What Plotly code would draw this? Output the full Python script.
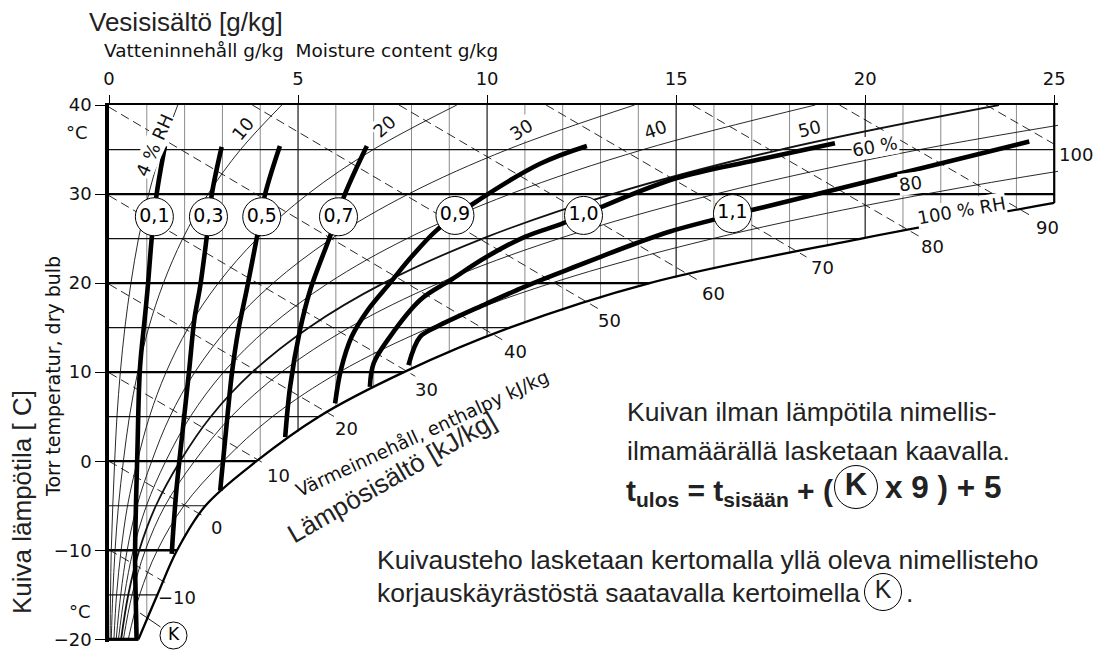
import numpy as np
import plotly.graph_objects as go

# ---------------- data ----------------
X_TICKS = [0, 5, 10, 15, 20, 25]            # moisture content g/kg
T_TICKS = [-20, -10, 0, 10, 20, 30, 40]     # dry bulb temperature C
X_RANGE = [0, 25.1]
T_RANGE = [-20.3, 40]
X_EDGE = 25
T_TOP = 40
T_BOTTOM = -20

# saturation curve (100 % RH)
SAT_T = [-20, -15, -10, -5, 0, 5, 10, 15, 20, 25, 29]
SAT_X = [0.78, 1.28, 1.80, 2.55, 3.90, 5.55, 7.80, 10.6, 14.3, 19.9, 25.0]

# relative humidity curves: moisture content at the temperatures RH_T
RH_T = [-20, -15, -10, -5, 0, 5, 10, 15, 20, 25, 30, 35, 40]
RH_4 = [0.03, 0.04, 0.06, 0.10, 0.15, 0.21, 0.30, 0.42, 0.58, 0.78, 1.05, 1.39, 1.82]
RH_10 = [0.06, 0.10, 0.16, 0.25, 0.38, 0.54, 0.76, 1.05, 1.44, 1.95, 2.62, 3.48, 4.57]
RH_20 = [0.13, 0.20, 0.32, 0.49, 0.75, 1.07, 1.51, 2.10, 2.89, 3.92, 5.26, 6.99, 9.20]
RH_30 = [0.19, 0.31, 0.48, 0.74, 1.13, 1.61, 2.27, 3.16, 4.34, 5.89, 7.92, 10.54, 13.90]
RH_40 = [0.25, 0.41, 0.64, 0.99, 1.50, 2.15, 3.03, 4.22, 5.80, 7.88, 10.61, 14.13, 18.68]
RH_50 = [0.32, 0.51, 0.80, 1.24, 1.88, 2.69, 3.79, 5.28, 7.26, 9.88, 13.31, 17.77, 23.54]
RH_60 = [0.38, 0.61, 0.96, 1.48, 2.26, 3.23, 4.56, 6.35, 8.73, 11.90, 16.04, 21.45, 28.44]
RH_80 = [0.51, 0.81, 1.28, 1.98, 3.02, 4.32, 6.09, 8.49, 11.70, 15.97, 21.60, 28.93, 38.50]
RH_LABELS = ["4 % RH", "10", "20", "30", "40", "50", "60 %", "80", "100 % RH"]
RH_LABEL_X = [1.19, 3.54, 7.28, 10.91, 14.45, 18.54, 20.25, 21.2, 22.54]
RH_LABEL_T = [35.5, 37.4, 37.6, 37.2, 37.2, 37.4, 35.3, 31.2, 28.2]

# enthalpy lines kJ/kg (start and end points)
ENTH_H = [-10, 0, 10, 20, 30, 40, 50, 60, 70, 80, 90, 100]
ENTH_X0 = [0, 0, 0, 0, 0, 0, 3.79, 7.67, 11.56, 15.44, 19.32, 23.2]
ENTH_T0 = [-9.94, 0, 9.94, 19.88, 29.82, 39.76, 40, 40, 40, 40, 40, 40]
ENTH_X1 = [1.60, 2.55, 4.15, 6.00, 8.10, 10.40, 12.95, 15.65, 18.45, 21.45, 24.45, 25.0]
ENTH_T1 = [-13.9, -6.3, -0.37, 4.9, 9.54, 13.64, 17.1, 20.15, 22.93, 25.2, 27.4, 35.6]
ENTH_LABEL_X = [1.80, 2.85, 4.48, 6.29, 8.40, 10.74, 13.25, 15.98, 18.87, 21.79, 24.82, 25.58]
ENTH_LABEL_T = [-15.3, -7.4, -1.6, 3.7, 8.0, 12.3, 15.8, 18.8, 21.7, 24.1, 26.3, 34.4]

# correction factor curves K
K01_T = [-20, -16, -10.4, 0.9, 10.5, 15.8, 19.3, 25, 30, 35.4]
K01_X = [0.73, 0.71, 0.69, 0.75, 0.82, 0.94, 1.02, 1.13, 1.26, 1.48]
K03_T = [-10.4, -7.75, -2.9, 3.9, 10.2, 16, 19.6, 25, 30, 35.3]
K03_X = [1.66, 1.70, 1.79, 1.96, 2.12, 2.26, 2.41, 2.58, 2.72, 2.98]
K05_T = [-3.3, 5.4, 10.2, 14.7, 19.2, 25.1, 30, 35.4]
K05_X = [2.94, 3.14, 3.26, 3.42, 3.64, 3.91, 4.13, 4.52]
K07_T = [2.7, 8.35, 14.7, 19.2, 25.3, 30, 35.4]
K07_X = [4.66, 4.79, 5.05, 5.32, 5.85, 6.24, 6.82]
K09_T = [6.5, 10.2, 14.0, 17.0, 20.0, 22.95, 25.95, 28.8, 33.4, 35.4]
K09_X = [5.98, 6.13, 6.42, 6.85, 7.43, 8.00, 8.67, 9.59, 11.4, 12.64]
K10_T = [8.35, 11.0, 13.97, 18.1, 20.3, 22.95, 25.2, 26.7, 28.4, 31.8, 33.8, 35.7]
K10_X = [6.90, 7.00, 7.43, 8.23, 9.02, 9.99, 11.0, 12.0, 12.93, 15.02, 17.1, 19.2]
K11_T = [10.8, 13.97, 15.1, 17.7, 19.6, 21.3, 22.95, 24.5, 25.8, 27.1, 28.2, 32.3, 35.9]
K11_X = [7.92, 8.23, 8.67, 9.99, 11.0, 12.0, 13.0, 13.96, 14.84, 15.97, 17.0, 20.92, 24.34]
K_LABELS = ["0,1", "0,3", "0,5", "0,7", "0,9", "1,0", "1,1"]
K_LABEL_X = [1.20, 2.63, 4.04, 6.07, 9.15, 12.55, 16.49]
K_LABEL_T = [27.45, 27.45, 27.45, 27.45, 27.6, 27.6, 27.8]

GRID_T_MAJOR = [-10, 0, 10, 20, 30]
GRID_T_MINOR = [-15, -5, 5, 15, 25, 35]
GRID_X_MAJOR = [5, 10, 15, 20]
GRID_X_MINOR = [v for v in range(1, 25) if v % 5 != 0]

# ---------------- layout geometry ----------------
OFF = 8                       # page body margin of the browser
W, H = 1104 - OFF, 650 - OFF
ML, MR, MT, MB = 109 - OFF, 46, 105 - OFF, 8
PW, PH = W - ML - MR, H - MT - MB


def px2x(px):
    return X_RANGE[0] + (px - OFF - ML) / PW * (X_RANGE[1] - X_RANGE[0])


def py2t(py):
    return T_RANGE[1] - (py - OFF - MT) / PH * (T_RANGE[1] - T_RANGE[0])


def px2paper(px):
    return (px - OFF - ML) / PW


def py2paper(py):
    return 1 - (py - OFF - MT) / PH


def x2paper(x):
    return (x - X_RANGE[0]) / (X_RANGE[1] - X_RANGE[0])


def t2paper(t):
    return (t - T_RANGE[0]) / (T_RANGE[1] - T_RANGE[0])


fig = go.Figure()


def add_segments(segs, width, color, dash="solid"):
    xs, ys = [], []
    for x0, t0, x1, t1 in segs:
        xs += [x0, x1, None]
        ys += [t0, t1, None]
    fig.add_trace(go.Scatter(x=xs, y=ys, mode="lines",
                             line=dict(color=color, width=width, dash=dash),
                             hoverinfo="skip", showlegend=False))


def sat_x_at(t):
    return min(float(np.interp(t, SAT_T, SAT_X)), X_EDGE)


def sat_t_at(x):
    return float(np.interp(x, SAT_X, SAT_T))


# grid
add_segments([(x, sat_t_at(x), x, T_TOP) for x in GRID_X_MINOR], 1.0, "#8c8c8c")
add_segments([(x, sat_t_at(x), x, T_TOP) for x in GRID_X_MAJOR], 1.2, "#1a1a1a")
add_segments([(0, t, sat_x_at(t), t) for t in GRID_T_MINOR], 1.2, "#111111")
add_segments([(0, t, sat_x_at(t), t) for t in GRID_T_MAJOR], 2.3, "#000000")

# RH curves
for xs, w in [(RH_4, 0.9), (RH_10, 0.9), (RH_20, 0.9), (RH_30, 0.9), (RH_40, 0.9),
              (RH_50, 1.8), (RH_60, 0.9), (RH_80, 0.9)]:
    fig.add_trace(go.Scatter(x=xs, y=RH_T, mode="lines",
                             line=dict(color="#111111", width=w, shape="spline"),
                             hoverinfo="skip", showlegend=False))

# enthalpy lines
add_segments(list(zip(ENTH_X0, ENTH_T0, ENTH_X1, ENTH_T1)), 0.9, "#111111", "9px,5px")

# frame pieces: bottom line and right edge
add_segments([(0, T_BOTTOM, SAT_X[0], T_BOTTOM)], 3.2, "#000000")
add_segments([(X_EDGE, SAT_T[-1], X_EDGE, T_TOP)], 2.2, "#000000")

# saturation curve
fig.add_trace(go.Scatter(x=SAT_X, y=SAT_T, mode="lines",
                         line=dict(color="#000000", width=2.3, shape="spline"),
                         hoverinfo="skip", showlegend=False))

# K curves
for xs, ts in [(K01_X, K01_T), (K03_X, K03_T), (K05_X, K05_T), (K07_X, K07_T),
               (K09_X, K09_T), (K10_X, K10_T), (K11_X, K11_T)]:
    fig.add_trace(go.Scatter(x=xs, y=ts, mode="lines",
                             line=dict(color="#000000", width=4.6, shape="spline"),
                             hoverinfo="skip", showlegend=False))

DJ = "DejaVu Sans"
LB = "Liberation Sans"

# circled K labels on curves
fig.add_trace(go.Scatter(x=K_LABEL_X, y=K_LABEL_T, mode="markers+text", text=K_LABELS,
                         textposition="middle center",
                         textfont=dict(family=DJ, size=19, color="black"),
                         marker=dict(size=38, color="white", line=dict(color="black", width=1)),
                         cliponaxis=False, hoverinfo="skip", showlegend=False))

# leader + circled K at bottom
fig.add_annotation(x=px2x(140), y=py2t(613), ax=px2x(162), ay=py2t(628), axref="x", ayref="y",
                   xref="x", yref="y", text="", showarrow=True, arrowhead=0,
                   arrowwidth=0.9, arrowcolor="black")
fig.add_trace(go.Scatter(x=[px2x(173.5)], y=[py2t(635.5)], mode="markers+text", text=["K"],
                         textposition="middle center",
                         textfont=dict(family=DJ, size=17, color="black"),
                         marker=dict(size=27, color="white", line=dict(color="black", width=1)),
                         cliponaxis=False, hoverinfo="skip", showlegend=False))

# circled K in formula and in explanatory text
fig.add_trace(go.Scatter(x=[px2x(856)], y=[py2t(487)], mode="markers+text", text=["<b>K</b>"],
                         textposition="middle center",
                         textfont=dict(family=LB, size=31, color="#222"),
                         marker=dict(size=43, color="white", line=dict(color="black", width=1)),
                         cliponaxis=False, hoverinfo="skip", showlegend=False))
fig.add_trace(go.Scatter(x=[px2x(883)], y=[py2t(592)], mode="markers+text", text=["K"],
                         textposition="middle center",
                         textfont=dict(family=LB, size=25, color="#222"),
                         marker=dict(size=37, color="white", line=dict(color="black", width=1)),
                         cliponaxis=False, hoverinfo="skip", showlegend=False))


def ann(text, xp, yp, size, family=DJ, angle=0, xanchor="center", bg=None, color="#111"):
    d = dict(x=xp, y=yp, xref="paper", yref="paper", text=text, showarrow=False,
             xanchor=xanchor, yanchor="middle", textangle=angle, borderpad=0,
             font=dict(family=family, size=size, color=color))
    if bg:
        d["bgcolor"] = bg
    fig.add_annotation(**d)


def txt(text, px, py, size, **kw):
    ann(text, px2paper(px), py2paper(py), size, **kw)


def txt_data(text, x, t, size, **kw):
    ann(text, x2paper(x), t2paper(t), size, **kw)


# RH labels
RH_ANGLES = [-66, -50, -42, -32, -20, -14, -10, -8, -10]
for lab, x, t, a in zip(RH_LABELS, RH_LABEL_X, RH_LABEL_T, RH_ANGLES):
    txt_data(lab, x, t, 18, angle=a, bg="white")

# enthalpy labels
for h, x, t in zip(ENTH_H, ENTH_LABEL_X, ENTH_LABEL_T):
    txt_data(("\u2212" + str(-h)) if h < 0 else str(h), x, t, 18)

# titles and notes
txt("Vesisisältö [g/kg]", 88, 22, 26, family=LB, xanchor="left", color="#222")
txt("Vatteninnehåll g/kg\u00a0\u00a0Moisture content g/kg", 103, 50, 18.5, xanchor="left")
txt("°C", 77, 132, 18)
txt("°C", 80, 611, 18)
txt("Kuiva lämpötila [ C]", 22, 502, 26, family=LB, angle=-90, color="#222")
txt("Torr temperatur, dry bulb", 53, 377, 19, angle=-90)
txt("Värmeinnehåll, enthalpy kJ/kg", 422, 433, 18.5, angle=-24.8)
txt("Lämpösisältö [kJ/kg]", 392, 477, 26, family=LB, angle=-30, color="#222")
txt("Kuivan ilman lämpötila nimellis-", 626, 412, 26.5, family=LB, xanchor="left", color="#222")
txt("ilmamäärällä lasketaan kaavalla.", 626, 451, 26.5, family=LB, xanchor="left", color="#222")
txt("<b>t<sub>ulos</sub> = t<sub>sisään</sub> + (</b>", 625, 492, 30, family=LB,
    xanchor="left", color="#222")
txt("<b>x 9 ) + 5</b>", 884, 487, 31.5, family=LB, xanchor="left", color="#222")
txt("Kuivausteho lasketaan kertomalla yllä oleva nimellisteho", 376, 560, 26.5, family=LB,
    xanchor="left", color="#222")
txt("korjauskäyrästöstä saatavalla kertoimella", 376, 593, 26.5, family=LB,
    xanchor="left", color="#222")
txt(".", 905, 593, 26.5, family=LB, xanchor="left", color="#222")

fig.update_layout(
    width=W, height=H,
    margin=dict(l=ML, r=MR, t=MT, b=MB, autoexpand=False),
    paper_bgcolor="white", plot_bgcolor="white",
    showlegend=False,
    font=dict(family=DJ, color="#111"),
    xaxis=dict(range=X_RANGE, side="top", tickvals=X_TICKS, ticktext=[str(v) for v in X_TICKS],
               ticks="outside", ticklen=8, tickwidth=1.2, tickcolor="black",
               showline=True, linecolor="black", linewidth=2,
               showgrid=False, zeroline=False, ticklabelstandoff=3,
               tickfont=dict(family=DJ, size=18, color="#111")),
    yaxis=dict(range=T_RANGE, tickvals=T_TICKS, ticks="outside", ticklen=10, tickwidth=1.2,
               tickcolor="black", showline=True, linecolor="black", linewidth=3.5,
               showgrid=False, zeroline=False,
               tickfont=dict(family=DJ, size=18, color="#111")),
)

fig.write_html("out.html")
